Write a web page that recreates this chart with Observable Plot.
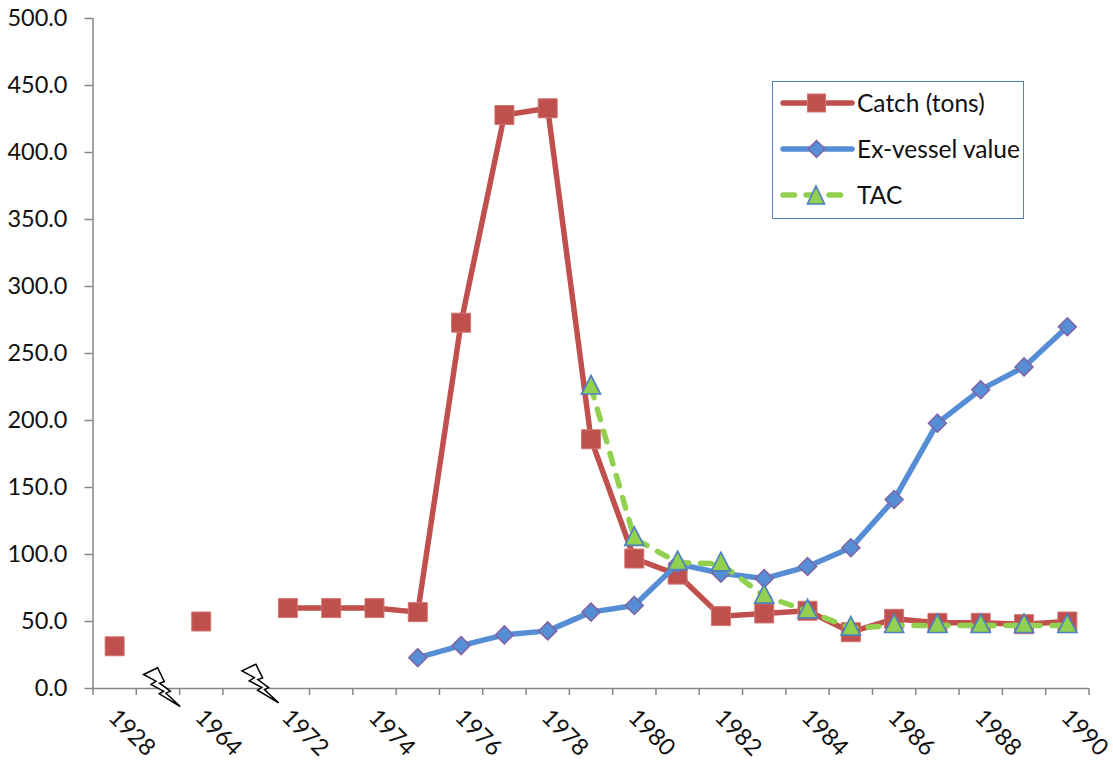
<!DOCTYPE html>
<html><head><meta charset="utf-8">
<script src="https://cdn.jsdelivr.net/npm/d3@7"></script>
<script src="https://cdn.jsdelivr.net/npm/@observablehq/plot@0.6"></script>
<style>
html,body{margin:0;padding:0;background:#fff;}
#wrap{position:relative;width:1113px;height:761px;overflow:hidden;}
#legend{position:absolute;left:772px;top:81px;width:250px;height:136px;border:1.5px solid #4F81BD;background:#fff;font:24.5px Lato,sans-serif;color:#111;}
#legend div{position:absolute;left:84px;line-height:30px;white-space:nowrap;}
#legend svg{position:absolute;left:0;top:0;}
</style></head><body><div id="wrap"><div id="chart"></div>
<div id="legend">
<svg width="250" height="136">
<path d="M10 21H79" stroke="#C0504D" stroke-width="5.500" stroke-linecap="round"/>
<rect x="34.5" y="12" width="18" height="18" fill="#C0504D" stroke="#D07572" stroke-width="1"/>
<path d="M10 67H79" stroke="#558ED5" stroke-width="5.500" stroke-linecap="round"/>
<path d="M43.5 58.5L52 67L43.5 75.500L35 67Z" fill="#558ED5" stroke="#8064A2" stroke-width="1.500"/>
<path d="M10 113H74" stroke="#92D050" stroke-width="5.500" stroke-linecap="round" stroke-dasharray="11.500 11.500"/>
<path d="M43 104L51.500 122H34.500Z" fill="#92D050" stroke="#4F81BD" stroke-width="1.700"/>
</svg>
<div style="top:6px">Catch (tons)</div>
<div style="top:52px">Ex-vessel value</div>
<div style="top:98px">TAC</div>
</div></div>
<script>
const years = ["1928","","1964","","1972","1973","1974","1975","1976","1977","1978","1979","1980","1981","1982","1983","1984","1985","1986","1987","1988","1989","1990"];
const catchTons = [31.5,null,50,null,60,60,60,57,273,428,433,186,97,85,54,56,58,42,52,49,49,48,50];
const exVessel = [null,null,null,null,null,null,null,23,32,40,43,57,62,93,86,82,91,105,141,198,223,240,270];
const tac = [null,null,null,null,null,null,null,null,null,null,null,225,112,94,93,69,58,45,47,47,47,47,47];
const breaks = [[1.6,1.5],[3.87,4.2]];

const rows = (vals) => vals.map((v,i)=>({x:i+0.5,y:v}));
const sym = (pts) => ({draw(c){pts.forEach((p,i)=> i? c.lineTo(p[0],p[1]) : c.moveTo(p[0],p[1])); c.closePath();}});
const square = sym([[-9.500,-9.500],[9.500,-9.500],[9.500,9.500],[-9.500,9.500]]);
const diamond = sym([[0,-9],[9,0],[0,9],[-9,0]]);
const triangle = sym([[0,-11.500],[9.500,7],[-9.500,7]]);
const bolt = sym([[-18.7,-12],[-4.7,-18.7],[2,-5],[-2.7,-3.3],[8,4.7],[3.7,6.7],[18,20],[-3,7.3],[1.3,4.7],[-11.3,-2],[-6.3,-5.3]]);

const fontFamily = "Lato, sans-serif";
const axisColor = "#868686";
const chart = Plot.plot({
  width:1113, height:761,
  marginLeft:92.5, marginRight:24.5, marginTop:18, marginBottom:73,
  style:{fontFamily, fontSize:"24px", color:"#111", background:"#fff", overflow:"visible"},
  x:{type:"linear", domain:[0,years.length], axis:null},
  y:{domain:[0,500], axis:null},
  marks:[
    Plot.ruleX([0],{stroke:axisColor,strokeWidth:1.500}),
    Plot.ruleY([0],{stroke:axisColor,strokeWidth:1.500}),
    Plot.axisY({ticks:d3.range(0,501,50),tickFormat:d=>d.toFixed(1),tickSize:8,tickPadding:17.500,stroke:axisColor,strokeWidth:1.500,fill:"#111",label:null,fontSize:23.5}),
    Plot.axisX({ticks:d3.range(0,years.length+1),tickFormat:()=>"",tickSize:7,stroke:axisColor,strokeWidth:1.500,label:null}),
    Plot.axisX({ticks:d3.range(0,years.length,2).map(i=>i+0.5),tickFormat:d=>years[d-0.5],tickSize:0,tickPadding:25,tickRotate:45,textAnchor:"start",dx:-2,fill:"#111",label:null,fontSize:23.5}),
    Plot.line(rows(catchTons),{x:"x",y:"y",stroke:"#C0504D",strokeWidth:5.500,curve:"linear"}),
    Plot.dot(rows(catchTons).filter(d=>d.y!=null),{x:"x",y:"y",symbol:square,fill:"#C0504D",stroke:"#D07572",strokeWidth:1}),
    Plot.line(rows(exVessel),{x:"x",y:"y",stroke:"#558ED5",strokeWidth:5.500}),
    Plot.dot(rows(exVessel).filter(d=>d.y!=null),{x:"x",y:"y",symbol:diamond,fill:"#558ED5",stroke:"#8064A2",strokeWidth:1.500}),
    Plot.line(rows(tac),{x:"x",y:"y",stroke:"#92D050",strokeWidth:5.500,strokeDasharray:"11 12",strokeLinecap:"round"}),
    Plot.dot(rows(tac).filter(d=>d.y!=null),{x:"x",y:"y",symbol:triangle,fill:"#92D050",stroke:"#4F81BD",strokeWidth:1.700}),
    Plot.dot(breaks,{x:d=>d[0],y:d=>d[1],symbol:bolt,fill:"#fff",stroke:"#000",strokeWidth:1.500})
  ]
});
document.getElementById("chart").appendChild(chart);
</script></body></html>
